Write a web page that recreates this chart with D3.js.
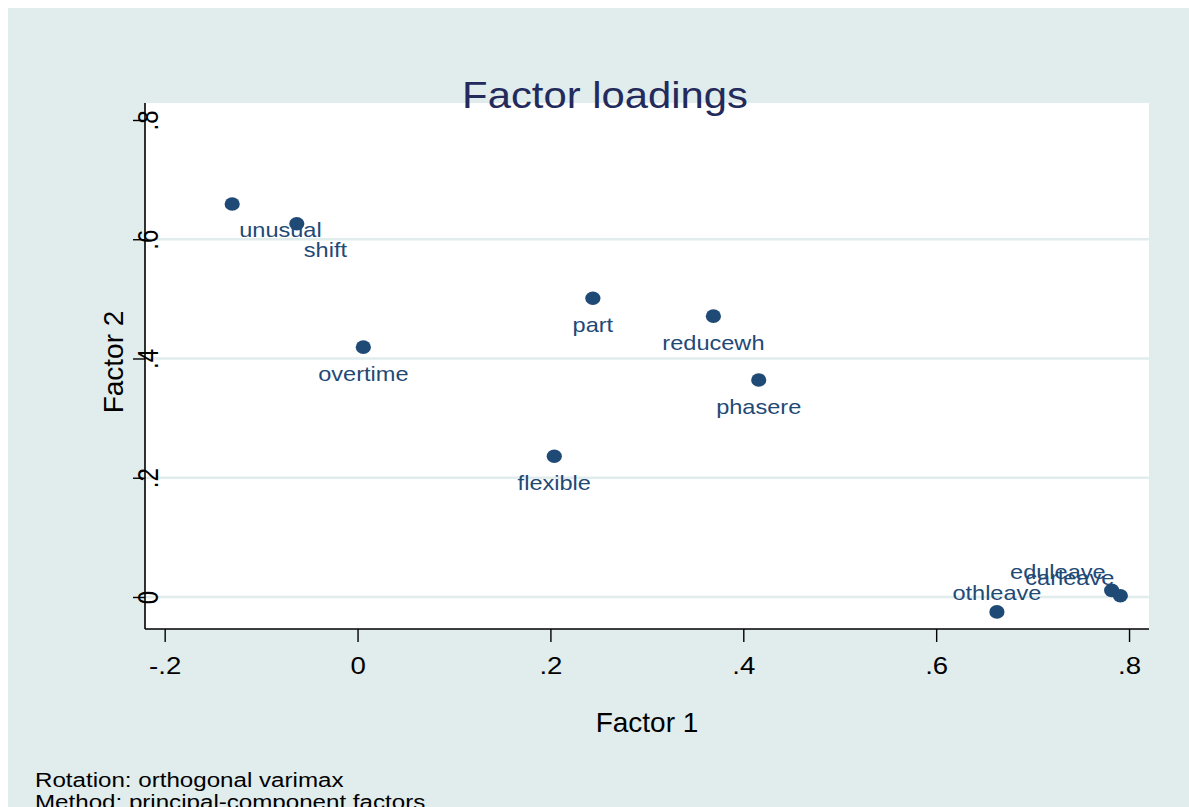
<!DOCTYPE html>
<html>
<head>
<meta charset="utf-8">
<script src="https://cdn.jsdelivr.net/npm/d3@7"></script>
<style>
  body { margin: 0; background: #ffffff; }
  text { font-family: "Liberation Sans", Arial, sans-serif; }
</style>
</head>
<body>
<svg></svg>
<script>
// the data: variable names and their loadings on the two factors
var variables = ["unusual", "shift", "overtime", "part", "reducewh", "phasere", "flexible", "othleave", "eduleave", "carleave"];
var factor1 = [-0.130, -0.063, 0.006, 0.244, 0.369, 0.416, 0.204, 0.663, 0.782, 0.791];
var factor2 = [0.659, 0.626, 0.419, 0.501, 0.471, 0.364, 0.236, -0.025, 0.011, 0.002];
// clock position of each marker label (like stata mlabvpos)
var labelClock = [5, 5, 6, 6, 6, 6, 6, 12, 11, 11];

// tick values and labels
var xTicks = [-0.2, 0, 0.2, 0.4, 0.6, 0.8];
var xTickLabels = ["-.2", "0", ".2", ".4", ".6", ".8"];
var yTicks = [0, 0.2, 0.4, 0.6, 0.8];
var yTickLabels = ["0", ".2", ".4", ".6", ".8"];

var notes = ["Rotation: orthogonal varimax", "Method: principal-component factors"];

// dimensions
var svgWidth = 1189;
var svgHeight = 807;

// plot region box
var plot = { left: 145, right: 1149, top: 103, bottom: 629 };

// text looks a bit stretched sideways in the original
var sx = 1.15;

var navy = "#1f4a76";
var bg = "#e1ecec";

var svg = d3.select("svg")
  .attr("width", svgWidth)
  .attr("height", svgHeight)
  .style("display", "block");

// outer graph region
svg.append("rect")
  .attr("x", 8)
  .attr("y", 8)
  .attr("width", svgWidth - 8)
  .attr("height", svgHeight - 8)
  .attr("fill", bg);

// inner plot region
svg.append("rect")
  .attr("x", plot.left)
  .attr("y", plot.top)
  .attr("width", plot.right - plot.left)
  .attr("height", plot.bottom - plot.top)
  .attr("fill", "#ffffff");

// scales
var xScale = d3.scaleLinear()
  .domain([-0.2204, 0.8207])
  .range([plot.left, plot.right]);

var yScale = d3.scaleLinear()
  .domain([-0.0537, 0.8285])
  .range([plot.bottom, plot.top]);

// gridlines (stata leaves out the one next to the top edge)
svg.append("g")
  .selectAll("line")
  .data(yTicks.filter(d => d < 0.8))
  .enter()
  .append("line")
  .attr("x1", plot.left)
  .attr("x2", plot.right)
  .attr("y1", d => yScale(d))
  .attr("y2", d => yScale(d))
  .attr("stroke", bg)
  .attr("stroke-width", 2.5);

// x axis
var bottomAxis = d3.axisBottom(xScale)
  .tickValues(xTicks)
  .tickFormat((d, i) => xTickLabels[i])
  .tickSize(13)
  .tickSizeOuter(0);

var xAxisG = svg.append("g")
  .attr("transform", `translate(0,${plot.bottom})`)
  .call(bottomAxis);

xAxisG.select(".domain")
  .attr("d", `M${plot.left},0H${plot.right}`)
  .attr("stroke", "#000")
  .attr("stroke-width", 1.6);
xAxisG.selectAll(".tick line").attr("stroke", "#000").attr("stroke-width", 1.4);
xAxisG.selectAll(".tick text")
  .attr("y", 0)
  .attr("dy", 0)
  .attr("fill", "#000")
  .attr("font-size", 24)
  .attr("font-family", "Liberation Sans, Arial, sans-serif")
  .attr("transform", `translate(0,45) scale(${sx},1)`);

// y axis
var leftAxis = d3.axisLeft(yScale)
  .tickValues(yTicks)
  .tickFormat((d, i) => yTickLabels[i])
  .tickSize(12)
  .tickSizeOuter(0);

var yAxisG = svg.append("g")
  .attr("transform", `translate(${plot.left},0)`)
  .call(leftAxis);

yAxisG.select(".domain")
  .attr("d", `M0,${plot.top}V${plot.bottom}`)
  .attr("stroke", "#000")
  .attr("stroke-width", 1.6);
yAxisG.selectAll(".tick line").attr("stroke", "#000").attr("stroke-width", 1.4);
// labels are turned and sit right on top of the axis, like in the picture
yAxisG.selectAll(".tick text")
  .attr("x", 0)
  .attr("y", 0)
  .attr("dy", 0)
  .attr("fill", "#000")
  .attr("font-size", 24)
  .attr("font-family", "Liberation Sans, Arial, sans-serif")
  .attr("text-anchor", "middle")
  .attr("transform", "translate(13,0) rotate(-90) scale(1,1.2)");

// points
var points = variables.map((v, i) => ({ name: v, x: factor1[i], y: factor2[i], clock: labelClock[i] }));

svg.append("g")
  .selectAll("ellipse")
  .data(points)
  .enter()
  .append("ellipse")
  .attr("cx", d => xScale(d.x))
  .attr("cy", d => yScale(d.y))
  .attr("rx", 7.6)
  .attr("ry", 6.8)
  .attr("fill", navy);

// marker labels, placed by clock position
function labelOffset(clock) {
  if (clock == 5) return { dx: 7, dy: 33, anchor: "start" };
  if (clock == 11) return { dx: -6, dy: -11, anchor: "end" };
  if (clock == 12) return { dx: 0, dy: -12, anchor: "middle" };
  return { dx: 0, dy: 34, anchor: "middle" };
}

svg.append("g")
  .selectAll("text")
  .data(points)
  .enter()
  .append("text")
  .attr("transform", d => {
    var o = labelOffset(d.clock);
    return `translate(${xScale(d.x) + o.dx},${yScale(d.y) + o.dy}) scale(${sx},1)`;
  })
  .attr("text-anchor", d => labelOffset(d.clock).anchor)
  .attr("font-size", 20.5)
  .attr("fill", navy)
  .text(d => d.name);

// axis titles
svg.append("text")
  .attr("transform", `translate(${(plot.left + plot.right) / 2},732)`)
  .attr("text-anchor", "middle")
  .attr("font-size", 28)
  .attr("fill", "#000")
  .text("Factor 1");

svg.append("text")
  .attr("transform", `translate(123,${(plot.top + plot.bottom) / 2 - 4}) rotate(-90)`)
  .attr("text-anchor", "middle")
  .attr("font-size", 28)
  .attr("fill", "#000")
  .text("Factor 2");

// title
svg.append("text")
  .attr("transform", `translate(605,108) scale(1.13,1)`)
  .attr("text-anchor", "middle")
  .attr("font-size", 37)
  .attr("fill", "#232a5c")
  .text("Factor loadings");

// notes at the bottom
svg.append("g")
  .selectAll("text")
  .data(notes)
  .enter()
  .append("text")
  .attr("transform", (d, i) => `translate(35,${787 + i * 22}) scale(${sx},1)`)
  .attr("font-size", 21)
  .attr("fill", "#000")
  .text(d => d);
</script>
</body>
</html>
